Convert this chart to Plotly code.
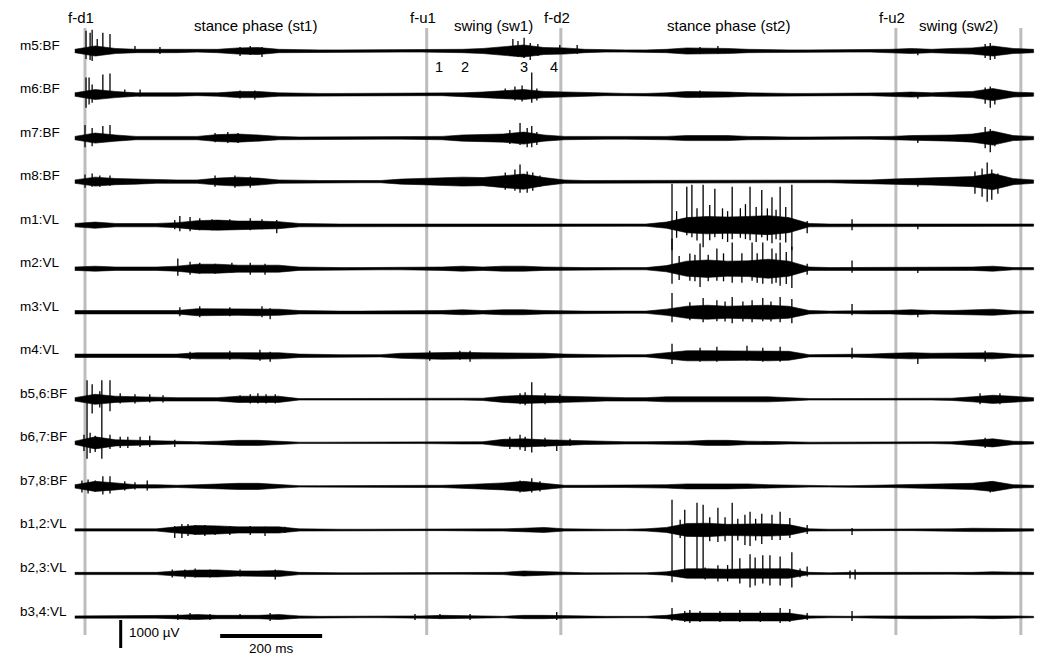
import plotly.graph_objects as go

# times in ms (0 = first foot-down), amplitudes in microvolts
channels = ["m5:BF", "m6:BF", "m7:BF", "m8:BF", "m1:VL", "m2:VL", "m3:VL", "m4:VL",
            "b5,6:BF", "b6,7:BF", "b7,8:BF", "b1,2:VL", "b2,3:VL", "b3,4:VL"]

event_times = [0, 670, 933, 1590, 1835]
event_labels = ["f-d1", "f-u1", "f-d2", "f-u2", ""]
phase_labels = ["stance phase (st1)", "swing (sw1)", "stance phase (st2)", "swing (sw2)"]
marker_times = [694, 745, 861, 920]
marker_labels = ["1", "2", "3", "4"]

scale_uv = 1000
scale_ms = 200

# envelope (half peak-to-peak, uV) sampled every 40 ms from -20 ms
env_times = list(range(-20, 1861, 40))

env_m5 = [60, 180, 90, 60, 60, 60, 40, 60, 110, 125, 60, 40, 40, 40, 40, 40, 40, 40, 40, 60, 90, 145, 215, 125,
          110, 60, 40, 40, 40, 60, 110, 110, 90, 60, 40, 40, 40, 40, 40, 40, 60, 90, 60, 90, 110, 180, 90, 60]
env_m6 = [60, 180, 110, 60, 60, 60, 40, 60, 110, 110, 60, 40, 40, 40, 40, 40, 40, 40, 40, 60, 90, 145, 180, 110,
          90, 60, 40, 40, 40, 60, 110, 110, 90, 60, 40, 40, 40, 40, 40, 40, 60, 90, 60, 90, 110, 215, 90, 60]
env_m7 = [60, 180, 110, 60, 60, 60, 60, 125, 145, 110, 60, 40, 40, 40, 40, 40, 40, 40, 60, 110, 125, 145, 215, 110,
          60, 60, 40, 40, 40, 60, 90, 90, 90, 60, 40, 40, 40, 40, 40, 40, 60, 90, 90, 110, 145, 250, 90, 60]
env_m8 = [60, 160, 110, 90, 60, 60, 60, 125, 160, 125, 60, 40, 40, 40, 40, 40, 90, 110, 125, 160, 145, 215, 270, 145,
          60, 40, 40, 40, 40, 60, 60, 60, 60, 40, 40, 40, 40, 40, 60, 60, 90, 110, 125, 145, 180, 290, 110, 60]
env_m1 = [60, 110, 60, 60, 60, 90, 160, 180, 145, 145, 125, 60, 40, 40, 40, 40, 40, 40, 60, 60, 60, 60, 60, 60,
          40, 40, 40, 40, 40, 110, 270, 310, 290, 310, 340, 270, 60, 40, 40, 40, 40, 60, 40, 40, 60, 60, 40, 40]
env_m2 = [60, 90, 60, 60, 60, 90, 160, 160, 125, 125, 125, 60, 40, 40, 40, 40, 40, 40, 60, 90, 60, 90, 90, 60,
          40, 40, 40, 40, 40, 110, 270, 310, 270, 280, 340, 270, 60, 40, 40, 40, 40, 60, 40, 60, 60, 90, 40, 40]
env_m3 = [60, 60, 60, 60, 60, 60, 125, 125, 110, 125, 110, 60, 40, 40, 40, 40, 40, 60, 60, 90, 60, 90, 90, 60,
          40, 40, 40, 40, 40, 110, 215, 250, 215, 235, 250, 215, 60, 40, 40, 60, 60, 90, 60, 60, 90, 110, 60, 40]
env_m4 = [60, 60, 60, 60, 60, 60, 110, 110, 110, 125, 110, 60, 40, 40, 40, 40, 90, 110, 125, 125, 110, 110, 110, 90,
          60, 40, 40, 40, 40, 110, 180, 180, 180, 160, 180, 160, 40, 40, 40, 60, 90, 110, 90, 90, 90, 110, 60, 40]
env_b56 = [60, 180, 110, 90, 60, 60, 60, 60, 110, 110, 110, 25, 25, 25, 25, 25, 25, 25, 25, 25, 40, 110, 145, 125,
           110, 90, 60, 60, 60, 90, 90, 90, 90, 90, 90, 60, 25, 25, 25, 25, 25, 25, 25, 40, 90, 145, 110, 60]
env_b67 = [60, 215, 110, 90, 60, 40, 40, 60, 90, 90, 60, 25, 25, 25, 25, 25, 25, 25, 25, 40, 40, 125, 145, 110,
           90, 60, 40, 40, 40, 40, 60, 90, 90, 60, 60, 40, 25, 25, 25, 25, 25, 25, 25, 40, 90, 145, 60, 40]
env_b78 = [60, 180, 125, 60, 60, 40, 60, 90, 110, 110, 60, 25, 25, 25, 25, 25, 40, 40, 40, 60, 90, 125, 180, 110,
           40, 40, 40, 40, 40, 60, 90, 90, 90, 90, 60, 40, 25, 25, 25, 40, 40, 60, 60, 90, 110, 180, 60, 40]
env_b12 = [40, 40, 40, 40, 40, 110, 160, 145, 110, 110, 110, 40, 25, 25, 25, 25, 25, 25, 25, 25, 40, 40, 60, 90,
           40, 25, 25, 25, 40, 90, 230, 240, 200, 210, 220, 190, 40, 25, 25, 25, 25, 25, 25, 40, 60, 60, 60, 40]
env_b23 = [40, 40, 40, 40, 40, 90, 125, 125, 90, 90, 110, 40, 25, 25, 25, 25, 25, 25, 25, 25, 25, 40, 90, 60,
           40, 25, 25, 25, 25, 60, 170, 170, 150, 170, 170, 170, 40, 25, 40, 40, 25, 25, 25, 25, 40, 60, 40, 40]
env_b34 = [40, 40, 40, 40, 40, 60, 90, 60, 60, 60, 90, 40, 25, 25, 25, 25, 25, 40, 60, 60, 40, 25, 60, 60,
           40, 25, 25, 25, 25, 60, 140, 140, 140, 140, 140, 140, 40, 25, 25, 40, 40, 60, 60, 60, 40, 60, 40, 25]

# single large deflections: (time ms, peak up uV, peak down uV)
spikes_m5 = [(2, 720, 290), (10, 650, 325), (14, 755, 360), (24, 430, 180), (35, 650, 145), (49, 610, 110),
             (98, 180, 70), (147, 145, 110), (304, 145, 180), (324, 180, 145), (347, 145, 215), (839, 430, 180),
             (849, 360, 215), (861, 470, 250), (873, 290, 325), (888, 250, 180), (931, 215, 110), (965, 215, 110),
             (1206, 145, 110), (1241, 180, 110), (1633, 40, 150), (1765, 250, 250), (1775, 290, 325),
             (1784, 180, 290)]
spikes_m6 = [(2, 610, 470), (8, 610, 360), (14, 360, 290), (35, 720, 110), (49, 755, 110), (78, 180, 70),
             (108, 180, 70), (304, 145, 145), (333, 145, 180), (824, 215, 145), (843, 290, 215), (857, 325, 250),
             (876, 790, 290), (886, 215, 215), (1206, 145, 110), (1633, 40, 150), (1765, 250, 325),
             (1775, 290, 470), (1784, 180, 360)]
spikes_m7 = [(0, 470, 325), (14, 360, 290), (35, 430, 110), (49, 470, 110), (255, 180, 145), (280, 215, 180),
             (300, 180, 180), (833, 290, 215), (853, 540, 250), (867, 360, 325), (876, 430, 325), (886, 215, 250),
             (1633, 40, 180), (1765, 395, 360), (1775, 325, 505), (1784, 215, 290)]
spikes_m8 = [(0, 250, 215), (14, 290, 180), (29, 215, 180), (49, 215, 145), (255, 215, 180), (294, 215, 215),
             (324, 180, 215), (824, 325, 290), (843, 430, 325), (853, 610, 395), (867, 360, 395), (878, 325, 325),
             (892, 215, 180), (1633, 40, 180), (1745, 360, 430), (1759, 470, 540), (1769, 685, 720),
             (1778, 430, 650), (1790, 290, 430)]
spikes_m1 = [(176, 180, 145), (186, 325, 215), (206, 290, 215), (225, 250, 180), (249, 215, 180), (284, 215, 145),
             (324, 250, 180), (347, 215, 145), (376, 180, 290), (1151, 1475, 900), (1160, 500, 450),
             (1180, 1370, 360), (1190, 1440, 430), (1200, 600, 550), (1212, 1440, 790), (1225, 720, 540),
             (1235, 1300, 430), (1250, 600, 500), (1260, 500, 600), (1269, 1370, 505), (1285, 600, 450),
             (1295, 750, 500), (1304, 1370, 540), (1316, 650, 600), (1327, 1260, 430), (1338, 600, 550),
             (1347, 1000, 650), (1355, 550, 500), (1363, 1370, 540), (1374, 650, 620), (1386, 1440, 900),
             (1416, 145, 290), (1504, 215, 180), (1633, 40, 150)]
spikes_m2 = [(182, 360, 250), (206, 250, 215), (225, 215, 180), (255, 180, 180), (288, 215, 145), (324, 215, 215),
             (353, 180, 215), (1151, 1080, 540), (1165, 450, 400), (1186, 540, 430), (1196, 500, 450),
             (1206, 900, 650), (1222, 500, 450), (1239, 720, 430), (1252, 550, 450), (1269, 935, 505),
             (1288, 550, 500), (1308, 935, 430), (1318, 550, 500), (1329, 935, 540), (1347, 720, 540),
             (1355, 550, 500), (1363, 935, 610), (1375, 600, 550), (1386, 790, 685), (1416, 180, 215),
             (1504, 290, 145), (1633, 40, 150)]
spikes_m3 = [(186, 180, 145), (225, 215, 180), (284, 180, 145), (347, 215, 180), (363, 145, 250), (1151, 685, 360),
             (1186, 360, 290), (1212, 505, 360), (1239, 430, 325), (1255, 380, 330), (1269, 540, 395),
             (1290, 380, 330), (1308, 430, 360), (1329, 505, 325), (1345, 380, 330), (1363, 540, 360),
             (1386, 470, 395), (1504, 290, 110), (1633, 40, 180)]
spikes_m4 = [(206, 145, 145), (284, 180, 145), (343, 215, 180), (363, 145, 215), (676, 180, 180), (735, 180, 145),
             (755, 180, 215), (1151, 430, 290), (1206, 290, 215), (1239, 325, 215), (1298, 360, 180),
             (1329, 290, 215), (1363, 325, 215), (1504, 290, 110), (1633, 70, 290), (1765, 180, 215)]
spikes_b56 = [(4, 685, 2120), (14, 540, 505), (29, 290, 290), (33, 685, 2120), (49, 685, 430), (69, 215, 145),
              (98, 180, 145), (127, 180, 110), (153, 145, 110), (304, 145, 110), (324, 180, 145), (339, 215, 145),
              (355, 180, 145), (373, 180, 145), (853, 215, 180), (863, 250, 215), (876, 610, 1900), (902, 215, 180),
              (931, 180, 145), (1755, 215, 180), (1794, 215, 180)]
spikes_b67 = [(-2, 290, 290), (10, 360, 360), (20, 250, 325), (49, 290, 215), (69, 215, 180), (84, 215, 180),
              (108, 215, 145), (127, 250, 145), (176, 110, 145), (833, 215, 215), (853, 290, 250), (863, 215, 290),
              (902, 180, 145), (925, 110, 290), (951, 145, 110), (1765, 180, 180)]
spikes_b78 = [(-6, 215, 215), (6, 250, 250), (20, 215, 180), (35, 360, 290), (49, 360, 250), (78, 180, 145),
              (98, 145, 110), (122, 215, 145), (853, 215, 215), (876, 290, 215), (892, 180, 180), (1775, 180, 215)]
spikes_b12 = [(176, 145, 290), (190, 215, 290), (202, 215, 215), (216, 180, 180), (235, 180, 215), (255, 145, 180),
              (284, 145, 180), (324, 145, 180), (353, 110, 215), (392, 110, 110), (1151, 1080, 1870),
              (1167, 360, 290), (1176, 720, 1690), (1200, 970, 1440), (1212, 900, 1440), (1225, 450, 400),
              (1241, 790, 430), (1255, 450, 400), (1269, 970, 1550), (1280, 400, 380), (1294, 540, 540),
              (1304, 650, 575), (1315, 400, 380), (1327, 575, 505), (1347, 540, 360), (1363, 650, 360),
              (1382, 430, 290), (1416, 180, 145), (1504, 70, 180)]
spikes_b23 = [(171, 145, 145), (196, 145, 180), (216, 180, 145), (245, 145, 145), (304, 145, 110), (373, 145, 215),
              (1216, 215, 215), (1241, 290, 290), (1260, 300, 280), (1284, 540, 360), (1304, 685, 505),
              (1314, 575, 430), (1329, 650, 360), (1343, 650, 430), (1363, 610, 430), (1386, 755, 505),
              (1402, 180, 145), (1416, 250, 110), (1500, 110, 180), (1510, 145, 215)]
spikes_b34 = [(182, 110, 110), (206, 145, 110), (245, 110, 110), (304, 110, 70), (363, 145, 145), (647, 110, 110),
              (696, 110, 70), (755, 110, 110), (925, 180, 110), (1151, 325, 145), (1176, 215, 180), (1186, 250, 215),
              (1206, 215, 180), (1245, 215, 180), (1284, 250, 180), (1324, 215, 180), (1363, 325, 215),
              (1382, 290, 180), (1416, 145, 110), (1504, 215, 145)]

envelopes = [env_m5, env_m6, env_m7, env_m8, env_m1, env_m2, env_m3, env_m4,
             env_b56, env_b67, env_b78, env_b12, env_b23, env_b34]
spikes = [spikes_m5, spikes_m6, spikes_m7, spikes_m8, spikes_m1, spikes_m2, spikes_m3, spikes_m4,
          spikes_b56, spikes_b67, spikes_b78, spikes_b12, spikes_b23, spikes_b34]

ROW_GAP = 1555          # uV between stacked channels
UV_PER_PX = 1000 / 28.0
FONT = "Liberation Sans, Arial, sans-serif"

fig = go.Figure()

# gray event lines (foot down / foot up)
top = 23 * UV_PER_PX
bottom = -584 * UV_PER_PX
ex, ey = [], []
for t in event_times:
    ex += [t, t, None]
    ey += [top, bottom, None]
fig.add_trace(go.Scatter(x=ex, y=ey, mode="lines",
                         line=dict(color="#bdbdbd", width=3), hoverinfo="skip"))

for i, name in enumerate(channels):
    base = -i * ROW_GAP
    env = envelopes[i]

    # activity envelope as a filled band
    bx = env_times + env_times[::-1]
    by = [base + a for a in env] + [base - a for a in env[::-1]]
    fig.add_trace(go.Scatter(x=bx, y=by, mode="lines", fill="toself",
                             fillcolor="black", line=dict(color="black", width=0.6),
                             hoverinfo="skip"))

    # big single spikes
    sx, sy = [], []
    for t, up, dn in spikes[i]:
        sx += [t, t, None]
        sy += [base + up, base - dn, None]
    fig.add_trace(go.Scatter(x=sx, y=sy, mode="lines",
                             line=dict(color="black", width=1.3), hoverinfo="skip"))

    fig.add_annotation(x=-131, y=base + 6 * UV_PER_PX, text=name, showarrow=False,
                       xanchor="left", yanchor="middle",
                       font=dict(family=FONT, size=13.5, color="black"))

# event and phase labels
for t, lab in zip(event_times, event_labels):
    if lab:
        fig.add_annotation(x=t - 8, y=34 * UV_PER_PX, text=lab, showarrow=False,
                           xanchor="center", yanchor="middle",
                           font=dict(family=FONT, size=15, color="black"))
for k, lab in enumerate(phase_labels):
    mid = (event_times[k] + event_times[k + 1]) / 2
    fig.add_annotation(x=mid, y=26 * UV_PER_PX, text=lab, showarrow=False,
                       xanchor="center", yanchor="middle",
                       font=dict(family=FONT, size=15, color="black"))
for t, lab in zip(marker_times, marker_labels):
    fig.add_annotation(x=t, y=-16 * UV_PER_PX, text=lab, showarrow=False,
                       xanchor="center", yanchor="middle",
                       font=dict(family=FONT, size=14.5, color="black"))

# scale bars
v_top = -569 * UV_PER_PX
fig.add_trace(go.Scatter(x=[70, 70], y=[v_top, v_top - scale_uv], mode="lines",
                         line=dict(color="black", width=3), hoverinfo="skip"))
fig.add_annotation(x=82, y=v_top - scale_uv * 0.45, text="1000 µV", showarrow=False,
                   xanchor="left", yanchor="middle",
                   font=dict(family=FONT, size=13.5, color="black"))
h_y = -585 * UV_PER_PX
fig.add_trace(go.Scatter(x=[265, 265 + scale_ms], y=[h_y, h_y], mode="lines",
                         line=dict(color="black", width=4), hoverinfo="skip"))
fig.add_annotation(x=265 + scale_ms / 2, y=h_y - 12 * UV_PER_PX, text="200 ms", showarrow=False,
                   xanchor="center", yanchor="middle",
                   font=dict(family=FONT, size=13.5, color="black"))

# page body has an 8px margin, so the figure is shrunk and the ranges shifted by 8px
fig.update_layout(
    width=1034, height=647,
    margin=dict(l=0, r=0, t=0, b=0),
    paper_bgcolor="white", plot_bgcolor="white",
    showlegend=False,
    xaxis=dict(visible=False, range=[(8 - 85) / 0.51, (1042 - 85) / 0.51], fixedrange=True),
    yaxis=dict(visible=False, range=[-604 * UV_PER_PX, 43 * UV_PER_PX], fixedrange=True),
)

fig.write_html("out.html")
